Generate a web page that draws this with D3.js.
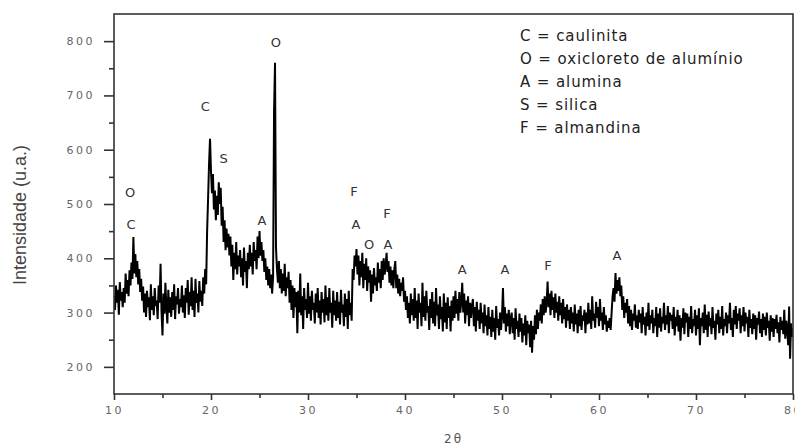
<!DOCTYPE html>
<html>
<head>
<meta charset="utf-8">
<script src="https://cdn.jsdelivr.net/npm/d3@7"></script>
<style>
  body { margin: 0; background: #fff; }
  svg { display: block; }
</style>
</head>
<body>
<script>
var w = 795,
  h = 445;

// 2θ grid of the scan
var angleStart = 10,
  angleStep = 0.1;

// intensity (u.a.), one row per degree
var intensity = [
  330, 305, 350, 318, 342, 296, 356, 322, 338, 310, // 10
  345, 318, 372, 335, 360, 330, 378, 350, 392, 362, // 11
  439, 372, 408, 365, 395, 352, 380, 338, 362, 322, // 12
  348, 300, 335, 292, 340, 310, 328, 286, 352, 305, // 13
  330, 295, 345, 312, 322, 288, 350, 318, 390, 300, // 14
  258, 335, 298, 355, 310, 280, 342, 300, 328, 292, // 15
  338, 305, 352, 288, 330, 315, 345, 298, 325, 310, // 16
  350, 300, 332, 290, 345, 318, 360, 296, 338, 312, // 17
  365, 305, 340, 292, 362, 318, 335, 300, 358, 320, // 18
  340, 312, 365, 335, 380, 352, 450, 510, 575, 620, // 19
  560, 520, 555, 490, 525, 470, 515, 480, 540, 500, // 20
  530, 460, 495, 430, 470, 415, 455, 420, 445, 405, // 21
  440, 385, 425, 360, 410, 380, 430, 370, 405, 385, // 22
  415, 365, 400, 350, 420, 375, 395, 345, 410, 380, // 23
  425, 385, 410, 370, 430, 395, 415, 380, 440, 400, // 24
  450, 405, 430, 395, 415, 375, 400, 360, 385, 350, // 25
  380, 345, 370, 335, 365, 670, 760, 420, 380, 355, // 26
  395, 345, 380, 335, 372, 340, 390, 330, 365, 345, // 27
  375, 318, 360, 305, 350, 290, 345, 310, 338, 262, // 28
  340, 300, 372, 295, 330, 270, 345, 305, 325, 290, // 29
  355, 298, 330, 285, 340, 305, 318, 280, 335, 300, // 30
  345, 290, 322, 278, 338, 300, 325, 282, 350, 295, // 31
  328, 285, 345, 300, 318, 272, 340, 295, 322, 285, // 32
  338, 290, 320, 278, 342, 300, 315, 275, 335, 292, // 33
  325, 270, 340, 295, 318, 285, 380, 360, 405, 385, // 34
  417, 370, 405, 350, 395, 365, 410, 345, 390, 360, // 35
  400, 340, 385, 355, 378, 320, 370, 335, 382, 350, // 36
  365, 340, 392, 355, 380, 345, 395, 360, 400, 370, // 37
  385, 410, 375, 395, 355, 385, 350, 378, 345, 380, // 38
  395, 345, 370, 335, 362, 330, 355, 340, 365, 320, // 39
  340, 305, 330, 290, 318, 280, 335, 295, 325, 285, // 40
  345, 290, 322, 270, 335, 300, 318, 275, 355, 292, // 41
  330, 285, 340, 300, 312, 268, 325, 290, 338, 280, // 42
  320, 275, 345, 295, 315, 270, 330, 288, 310, 265, // 43
  335, 282, 318, 270, 328, 290, 312, 265, 322, 285, // 44
  330, 290, 340, 298, 325, 285, 338, 300, 320, 355, // 45
  300, 335, 280, 322, 295, 330, 275, 318, 290, 312, // 46
  325, 275, 310, 265, 320, 285, 305, 270, 318, 280, // 47
  300, 262, 315, 275, 295, 258, 310, 270, 292, 255, // 48
  305, 265, 290, 250, 312, 272, 288, 258, 300, 268, // 49
  295, 345, 280, 310, 265, 298, 275, 305, 260, 290, // 50
  300, 262, 290, 250, 308, 270, 285, 255, 298, 265, // 51
  290, 245, 280, 258, 295, 240, 285, 262, 278, 236, // 52
  285, 226, 275, 250, 295, 260, 305, 270, 300, 285, // 53
  315, 280, 325, 295, 330, 300, 318, 357, 310, 335, // 54
  295, 340, 305, 328, 290, 335, 300, 320, 285, 330, // 55
  295, 318, 280, 325, 288, 310, 272, 315, 285, 305, // 56
  270, 310, 280, 300, 265, 315, 278, 298, 262, 305, // 57
  275, 312, 268, 295, 285, 305, 262, 300, 278, 318, // 58
  280, 305, 270, 330, 285, 298, 272, 320, 290, 310, // 59
  275, 325, 285, 300, 268, 310, 278, 295, 265, 285, // 60
  272, 290, 268, 300, 330, 345, 320, 373, 335, 360, // 61
  340, 365, 330, 350, 305, 330, 290, 318, 300, 325, // 62
  280, 312, 275, 305, 268, 298, 285, 315, 272, 295, // 63
  270, 305, 282, 298, 262, 310, 278, 292, 258, 300, // 64
  275, 318, 268, 295, 280, 305, 262, 290, 275, 310, // 65
  255, 298, 272, 308, 265, 292, 280, 318, 268, 295, // 66
  278, 312, 262, 300, 285, 296, 270, 310, 258, 292, // 67
  275, 305, 265, 295, 248, 290, 272, 308, 260, 300, // 68
  282, 298, 255, 292, 270, 312, 262, 288, 275, 305, // 69
  258, 295, 270, 308, 240, 290, 275, 300, 262, 315, // 70
  268, 296, 255, 302, 275, 290, 260, 310, 272, 285, // 71
  250, 298, 278, 305, 262, 292, 270, 312, 258, 288, // 72
  275, 300, 262, 295, 280, 318, 268, 290, 255, 305, // 73
  278, 312, 270, 298, 285, 308, 262, 295, 275, 310, // 74
  265, 300, 280, 292, 255, 305, 272, 288, 260, 298, // 75
  270, 295, 250, 290, 278, 302, 262, 288, 255, 298, // 76
  268, 292, 258, 300, 272, 285, 248, 295, 265, 290, // 77
  255, 288, 270, 296, 262, 282, 245, 292, 268, 285, // 78
  260, 305, 252, 285, 270, 240, 311, 215, 280, 255, // 79
  272                                               // 80
];

// phase marks placed over the peaks
var peakLabels = ['O', 'C', 'C', 'S', 'A', 'O', 'F', 'A', 'F', 'O', 'A', 'A', 'A', 'F', 'A'];
var peakTheta = [11.65, 11.75, 19.4, 21.3, 25.25, 26.7, 34.75, 34.95, 38.15, 36.3, 38.25, 45.9, 50.3, 54.75, 61.85];
var peakLevel = [522, 463, 679, 583, 469, 797, 524, 463, 482, 425, 425, 380, 380, 386, 406];

var legendLines = [
  'C = caulinita',
  'O = oxicloreto de alumínio',
  'A = alumina',
  'S = silica',
  'F = almandina'
];

var xTicks = [10, 20, 30, 40, 50, 60, 70, 80],
  xMinor = [15, 25, 35, 45, 55, 65, 75],
  yTicks = [200, 300, 400, 500, 600, 700, 800],
  yMinor = [250, 350, 450, 550, 650, 750];

var margin = { top: 14, right: 2, bottom: 51, left: 114 };
var iw = w - margin.left - margin.right,
  ih = h - margin.top - margin.bottom;

var svg = d3.select('body').append('svg')
  .attr('width', w)
  .attr('height', h);

var g = svg.append('g')
  .attr('transform', 'translate(' + margin.left + ',' + margin.top + ')');

var x = d3.scaleLinear().domain([10, 80]).range([0, iw]);
var y = d3.scaleLinear().domain([150, 850]).range([ih, 0]);

var points = intensity.map(function (v, i) {
  return [angleStart + i * angleStep, v];
});

g.append('clipPath').attr('id', 'clip')
  .append('rect').attr('width', iw).attr('height', ih);

var line = d3.line()
  .x(function (d) { return x(d[0]); })
  .y(function (d) { return y(d[1]); });

g.append('path')
  .datum(points)
  .attr('clip-path', 'url(#clip)')
  .attr('fill', 'none')
  .attr('stroke', '#000')
  .attr('stroke-width', 2)
  .attr('d', line);

// frame
g.append('rect')
  .attr('width', iw)
  .attr('height', ih)
  .attr('fill', 'none')
  .attr('stroke', '#333')
  .attr('stroke-width', 1.6);

var tickFont = 'DejaVu Sans, Verdana, sans-serif';

// x axis
var xAxis = g.append('g').attr('transform', 'translate(0,' + ih + ')')
  .call(d3.axisBottom(x).tickValues(xTicks).tickSize(6).tickPadding(6).tickFormat(d3.format('d')));
var xAxisMinor = g.append('g').attr('transform', 'translate(0,' + ih + ')')
  .call(d3.axisBottom(x).tickValues(xMinor).tickSize(4).tickFormat(''));

// y axis
var yAxis = g.append('g')
  .call(d3.axisLeft(y).tickValues(yTicks).tickSize(10).tickPadding(9));
var yAxisMinor = g.append('g')
  .call(d3.axisLeft(y).tickValues(yMinor).tickSize(5).tickFormat(''));

[xAxis, xAxisMinor, yAxis, yAxisMinor].forEach(function (a) {
  a.select('.domain').remove();
  a.selectAll('line').attr('stroke', '#333').attr('stroke-width', 1.6);
  a.selectAll('text')
    .attr('fill', '#666')
    .style('font-family', tickFont)
    .style('font-size', '11px')
    .style('letter-spacing', '2.5px');
});

// axis titles
svg.append('text')
  .attr('x', margin.left + x(45))
  .attr('y', 443)
  .attr('text-anchor', 'middle')
  .attr('fill', '#555')
  .style('font-family', tickFont)
  .style('font-size', '12px')
  .style('letter-spacing', '2px')
  .text('2θ');

svg.append('text')
  .attr('transform', 'translate(26,' + 215 + ') rotate(-90)')
  .attr('text-anchor', 'middle')
  .attr('fill', '#444')
  .style('font-family', 'Liberation Sans, Arial, sans-serif')
  .style('font-size', '18px')
  .text('Intensidade (u.a.)');

// peak marks
g.selectAll('.peak')
  .data(peakLabels)
  .enter()
  .append('text')
  .attr('class', 'peak')
  .attr('x', function (d, i) { return x(peakTheta[i]); })
  .attr('y', function (d, i) { return y(peakLevel[i]); })
  .attr('dy', '0.35em')
  .attr('text-anchor', 'middle')
  .attr('fill', '#333')
  .style('font-family', tickFont)
  .style('font-size', '13px')
  .text(function (d) { return d; });

// legend
svg.selectAll('.legend')
  .data(legendLines)
  .enter()
  .append('text')
  .attr('class', 'legend')
  .attr('x', 520)
  .attr('y', function (d, i) { return 41 + i * 23; })
  .attr('fill', '#222')
  .style('font-family', tickFont)
  .style('font-size', '15px')
  .style('letter-spacing', '0.9px')
  .text(function (d) { return d; });
</script>
</body>
</html>
